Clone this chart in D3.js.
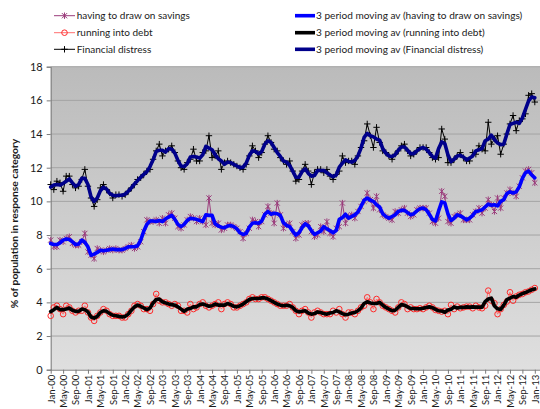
<!DOCTYPE html>
<html>
<head>
<meta charset="utf-8">
<script src="https://cdn.jsdelivr.net/npm/d3@7"></script>
<style>
  html, body { margin: 0; padding: 0; background: #ffffff; }
  svg { display: block; }
  text { font-family: Lato, "Open Sans", "Liberation Sans", sans-serif; fill: #1a1a1a; }
</style>
</head>
<body>
<svg id="chart" width="540" height="409"></svg>
<script>
// ---------------- data (monthly, Jan-00 .. Jan-13) ----------------
const startMonth = new Date(2000, 0, 1);
const endMonth = new Date(2013, 0, 1);

const savings = [
  7.7, 7.3, 7.3, 7.7, 7.6, 7.8, 7.9, 7.5, 7.4, 7.4,
  7.6, 8.1, 7.0, 6.8, 6.6, 7.2, 7.1, 7.0, 7.1, 7.2,
  7.1, 7.2, 7.1, 7.1, 7.2, 7.3, 7.4, 7.2, 7.3, 7.6,
  8.2, 8.9, 8.8, 8.8, 8.9, 8.7, 9.0, 8.7, 9.2, 9.3,
  9.0, 8.5, 8.4, 8.6, 8.9, 9.1, 9.0, 8.8, 9.0, 8.8,
  8.6, 10.2, 8.7, 8.6, 8.7, 8.3, 8.4, 8.6, 8.6, 8.5,
  8.4, 8.2, 7.8, 8.1, 8.4, 8.9, 8.8, 8.5, 8.8, 9.2,
  9.7, 9.3, 8.7, 9.9, 9.2, 8.4, 8.6, 8.7, 8.2, 7.8,
  8.0, 8.6, 8.7, 8.7, 8.2, 7.9, 8.0, 8.5, 8.2, 8.8,
  8.1, 7.9, 8.4, 8.5, 9.9, 8.7, 9.1, 9.2, 9.0, 9.4,
  9.7, 10.0, 10.5, 10.1, 9.6, 10.3, 9.5, 9.2, 9.1, 9.0,
  8.9, 9.4, 9.3, 9.5, 9.6, 9.3, 9.1, 9.2, 9.5, 9.6,
  9.6, 9.6, 9.3, 8.8, 8.7, 9.0, 10.6, 10.3, 8.8, 8.7,
  9.1, 9.2, 9.3, 8.9, 8.9, 8.9, 9.2, 9.4, 9.6, 9.3,
  9.6, 10.1, 9.8, 9.4, 10.2, 9.6, 10.2, 10.5, 10.7, 10.5,
  10.3, 10.9, 11.4, 11.8, 11.9, 11.7, 11.1
];

const debt = [
  3.2, 3.7, 3.8, 3.6, 3.3, 3.8, 3.7, 3.5, 3.4, 3.5,
  3.5, 3.8, 3.4, 3.1, 2.9, 3.2, 3.4, 3.6, 3.5, 3.3,
  3.2, 3.2, 3.2, 3.1, 3.1, 3.3, 3.5, 3.8, 3.9, 3.8,
  3.6, 3.6, 3.5, 3.9, 4.5, 4.1, 4.0, 4.0, 3.9, 3.8,
  3.9, 3.8, 3.5, 3.5, 3.4, 3.9, 3.6, 3.7, 3.9, 4.0,
  3.8, 3.7, 3.8, 3.9, 4.0, 3.6, 3.9, 4.0, 3.9, 3.7,
  3.7, 3.8, 3.9, 4.0, 4.2, 4.3, 4.2, 4.2, 4.3, 4.3,
  4.2, 4.1, 4.0, 3.9, 3.8, 3.8, 3.8, 3.9, 3.7, 3.5,
  3.3, 3.5, 3.6, 3.4, 3.1, 3.4, 3.5, 3.4, 3.3, 3.3,
  3.3, 3.5, 3.4, 3.6, 3.3, 3.1, 3.4, 3.4, 3.3, 3.5,
  3.7, 3.8, 4.3, 4.0, 3.6, 4.2, 4.0, 3.8, 3.7, 3.6,
  3.5, 3.4, 3.7, 4.0, 3.9, 3.6, 3.7, 3.6, 3.6, 3.65,
  3.6, 3.7, 3.8, 3.7, 3.55, 3.5, 3.45, 3.5, 3.3, 3.85,
  3.6, 3.75, 3.65, 3.7, 3.75, 3.75, 3.65, 3.8, 3.7, 3.65,
  3.8, 4.7, 4.1, 3.95, 3.3, 3.6, 3.85, 4.05, 4.6, 4.1,
  4.35, 4.45, 4.5, 4.6, 4.65, 4.75, 4.85
];

const distress = [
  11.0, 10.7, 11.2, 11.1, 10.6, 11.5, 11.5, 11.0, 10.8, 10.9,
  11.3, 11.9, 10.9, 10.2, 9.7, 10.1, 10.8, 11.0, 10.7, 10.5,
  10.2, 10.4, 10.4, 10.3, 10.4, 10.6, 10.8, 11.0, 11.3, 11.4,
  11.6, 11.8, 11.9, 12.5, 13.0, 13.4, 12.7, 13.0, 13.1, 13.3,
  12.9, 12.4, 12.0, 11.9, 12.3, 12.5, 13.1, 12.4, 12.4, 12.9,
  13.0, 13.9, 12.6, 12.7, 13.0, 11.9, 12.3, 12.4, 12.3, 12.2,
  12.1, 12.0, 11.9, 12.2, 12.7, 13.3, 13.0, 12.6, 12.9, 13.4,
  13.9, 13.5, 13.1, 13.0, 12.6, 12.4, 12.2, 12.4, 11.8, 11.2,
  11.3, 11.8, 12.2, 11.8, 11.0, 11.7, 11.9, 11.9, 11.7, 11.9,
  11.5, 11.3, 11.6, 11.8, 12.7, 12.3, 12.4, 12.4, 12.2, 12.7,
  13.2, 13.6, 14.6, 13.9, 13.2, 14.4, 13.5, 13.0, 12.9, 12.7,
  12.5, 12.8, 13.0, 13.3, 13.4, 13.0, 12.7, 12.8, 13.0, 13.2,
  13.2, 13.2, 12.9, 12.6, 12.5, 12.6, 14.3, 13.7, 12.3, 12.3,
  12.5, 12.7, 12.9, 12.6, 12.4, 12.4, 12.9, 12.8, 13.3, 13.1,
  13.0, 14.7, 13.4, 13.7, 13.9, 12.8, 13.4, 14.0, 14.6, 15.1,
  14.2, 14.8, 14.9, 15.2, 16.3, 16.4, 15.9
];

const yTicks = [0, 2, 4, 6, 8, 10, 12, 14, 16, 18];
const tickEvery = 4; // months between x tick labels
const seriesNames = ["having to draw on savings", "running into debt", "Financial distress"];
const maNames = [
  "3 period moving av (having to draw on savings)",
  "3 period moving av (running into debt)",
  "3 period moving av (Financial distress)"
];
const yTitle = "% of population in response category";

// ---------------- derived ----------------
const fmt = d3.timeFormat("%b-%y");
const months = d3.timeMonth.range(startMonth, d3.timeMonth.offset(endMonth, 1));
const categories = months.map(fmt);
const tickLabels = categories.filter((d, i) => i % tickEvery === 0);

// centred 3-period moving average (uses available neighbours at the ends)
function movingAvg(arr) {
  return arr.map((v, i) => {
    const w = arr.slice(Math.max(0, i - 1), Math.min(arr.length, i + 2));
    return d3.mean(w);
  });
}

// ---------------- layout ----------------
const svg = d3.select("#chart");
const plotLeft = 50.7, plotTop = 66.7, plotBottom = 369.7, plotRight = 545;

const x = d3.scalePoint().domain(categories).range([plotLeft, 534.8]).padding(0);
const y = d3.scaleLinear().domain([0, 18]).range([plotBottom, plotTop]);

// background gradient
const defs = svg.append("defs");
const grad = defs.append("linearGradient").attr("id", "bg").attr("x1", 0).attr("y1", 0).attr("x2", 0).attr("y2", 1);
grad.append("stop").attr("offset", "0%").attr("stop-color", "#bbbbbb");
grad.append("stop").attr("offset", "100%").attr("stop-color", "#dfdfdf");

svg.append("rect")
  .attr("x", plotLeft).attr("y", plotTop)
  .attr("width", plotRight - plotLeft).attr("height", plotBottom - plotTop)
  .attr("fill", "url(#bg)");

// gridlines
svg.append("g").selectAll("line").data(yTicks.filter(d => d > 0)).join("line")
  .attr("x1", plotLeft).attr("x2", plotRight)
  .attr("y1", d => y(d)).attr("y2", d => y(d))
  .attr("stroke", "#a4a4a4").attr("stroke-width", 1);

// y axis
const yAxis = svg.append("g").attr("transform", `translate(${plotLeft},0)`)
  .call(d3.axisLeft(y).tickValues(yTicks).tickSize(4).tickPadding(4));
yAxis.select(".domain").attr("stroke", "#7a7a7a");
yAxis.selectAll(".tick line").attr("stroke", "#7a7a7a");
yAxis.selectAll(".tick text").attr("font-size", 11).attr("font-family", "Lato, sans-serif").attr("fill", "#1a1a1a");

// x axis
const xAxis = svg.append("g").attr("transform", `translate(0,${plotBottom})`)
  .call(d3.axisBottom(x).tickValues(tickLabels).tickSize(4).tickSizeOuter(0));
xAxis.select(".domain").attr("stroke", "#7a7a7a").attr("d", `M${plotLeft},0.5H${plotRight}`);
xAxis.selectAll(".tick line").attr("stroke", "#7a7a7a");
xAxis.selectAll(".tick text")
  .attr("font-size", 9.6).attr("font-family", "Lato, sans-serif").attr("fill", "#1a1a1a")
  .attr("transform", "rotate(-90)")
  .attr("text-anchor", "end")
  .attr("x", -5).attr("y", 0).attr("dy", "0.35em");

// y title
svg.append("text")
  .attr("transform", `translate(18,223.5) rotate(-90)`)
  .attr("text-anchor", "middle")
  .attr("font-size", 10.3).attr("font-weight", "bold")
  .text(yTitle);

// ---------------- series ----------------
const line = d3.line().x((d, i) => x(categories[i])).y(d => y(d));

const styles = [
  { data: savings, color: "#9b3d7c", ma: "#0000ff", marker: "star" },
  { data: debt, color: "#ff6f6f", ma: "#000000", marker: "circle", mcolor: "#ff2a2a" },
  { data: distress, color: "#000000", ma: "#00008b", marker: "plus" }
];

const markerPath = {
  star: "M-2.6,-2.6L2.6,2.6M-2.6,2.6L2.6,-2.6M0,-3.2V3.2",
  plus: "M-3.2,0H3.2M0,-3.2V3.2"
};

const gSeries = svg.append("g");

styles.forEach(s => {
  gSeries.append("path").datum(s.data)
    .attr("d", line).attr("fill", "none")
    .attr("stroke", s.color).attr("stroke-width", 1);
  const gm = gSeries.append("g");
  if (s.marker === "circle") {
    gm.selectAll("circle").data(s.data).join("circle")
      .attr("cx", (d, i) => x(categories[i])).attr("cy", d => y(d))
      .attr("r", 2.8).attr("fill", "none").attr("stroke", s.mcolor).attr("stroke-width", 1);
  } else {
    gm.selectAll("path").data(s.data).join("path")
      .attr("transform", (d, i) => `translate(${x(categories[i])},${y(d)})`)
      .attr("d", markerPath[s.marker]).attr("fill", "none")
      .attr("stroke", s.color).attr("stroke-width", 1);
  }
});

styles.forEach(s => {
  gSeries.append("path").datum(movingAvg(s.data))
    .attr("d", line).attr("fill", "none")
    .attr("stroke", s.ma).attr("stroke-width", 3.6)
    .attr("stroke-linejoin", "round").attr("stroke-linecap", "round");
});

// ---------------- legend ----------------
const legend = svg.append("g");
const rowsY = [15.7, 32.7, 49.3];
styles.forEach((s, i) => {
  const gy = rowsY[i];
  const g = legend.append("g");
  g.append("line").attr("x1", 54).attr("x2", 75).attr("y1", gy).attr("y2", gy)
    .attr("stroke", s.color).attr("stroke-width", 1);
  if (s.marker === "circle") {
    g.append("circle").attr("cx", 64.5).attr("cy", gy).attr("r", 2.8)
      .attr("fill", "none").attr("stroke", s.mcolor);
  } else {
    g.append("path").attr("transform", `translate(64.5,${gy})`)
      .attr("d", markerPath[s.marker]).attr("fill", "none").attr("stroke", s.color);
  }
  g.append("text").attr("x", 76.7).attr("y", gy).attr("dy", "0.35em")
    .attr("font-size", 10).text(seriesNames[i]);

  const g2 = legend.append("g");
  g2.append("line").attr("x1", 295).attr("x2", 315).attr("y1", gy).attr("y2", gy)
    .attr("stroke", s.ma).attr("stroke-width", 3.6);
  g2.append("text").attr("x", 316).attr("y", gy).attr("dy", "0.35em")
    .attr("font-size", 10.1).text(maNames[i]);
});
</script>
</body>
</html>
